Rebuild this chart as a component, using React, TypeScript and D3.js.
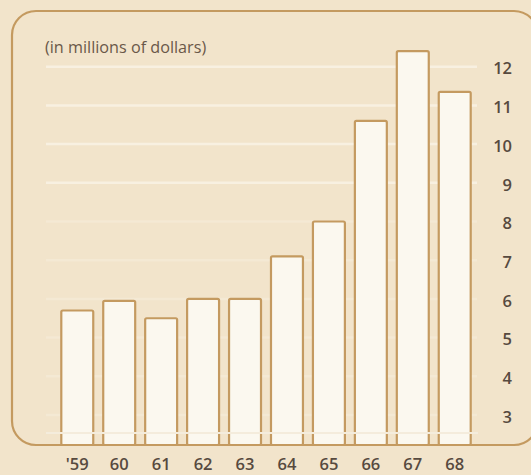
import { useEffect, useRef } from 'react';
import * as d3 from 'd3';

// fiscal years, '59 through '68
const years = ["'59", '60', '61', '62', '63', '64', '65', '66', '67', '68'];
// amounts in millions of dollars
const amounts = [5.7, 5.95, 5.5, 6.0, 6.0, 7.1, 8.0, 10.6, 12.4, 11.35];
// right-hand scale labels
const tickValues = [3, 4, 5, 6, 7, 8, 9, 10, 11, 12];

const W = 531;
const H = 475;

const BG = '#f2e4cb';
const BROWN = '#c49a60';
const INK = '#574a3f';
const FONT = 'Open Sans, Liberation Sans, sans-serif';

export default function App() {
  const ref = useRef<SVGSVGElement | null>(null);

  useEffect(() => {
    const svg = d3.select(ref.current);
    svg.selectAll('*').remove();

    const baseY = 445;

    const x = d3.scaleBand<string>()
      .domain(years)
      .range([55, 477])
      .paddingInner(0.238)
      .paddingOuter(0.15);

    const y = d3.scaleLinear()
      .domain([3, 12])
      .range([415, 66.7]);

    svg.append('rect')
      .attr('width', W)
      .attr('height', H)
      .attr('fill', BG);

    // faded white gridlines
    svg.append('g')
      .selectAll('line')
      .data(tickValues)
      .join('line')
      .attr('x1', 46)
      .attr('x2', 477)
      .attr('y1', d => y(d))
      .attr('y2', d => y(d))
      .attr('stroke', '#fbf5e9')
      .attr('stroke-width', 2.5)
      .attr('opacity', d => (d >= 9 ? 0.75 : 0.3));

    // bars
    svg.append('g')
      .selectAll('rect')
      .data(amounts)
      .join('rect')
      .attr('x', (d, i) => x(years[i])!)
      .attr('y', d => y(d))
      .attr('width', x.bandwidth())
      .attr('height', d => baseY - y(d))
      .attr('rx', 1.5)
      .attr('fill', '#fbf8ef')
      .attr('stroke', BROWN)
      .attr('stroke-width', 2.2);

    // light break line near the base
    svg.append('line')
      .attr('x1', 46)
      .attr('x2', 478)
      .attr('y1', 433)
      .attr('y2', 433)
      .attr('stroke', '#f4ecdc')
      .attr('stroke-width', 2);

    // rounded frame
    svg.append('rect')
      .attr('x', 12)
      .attr('y', 11)
      .attr('width', 526)
      .attr('height', baseY - 11)
      .attr('rx', 24)
      .attr('fill', 'none')
      .attr('stroke', BROWN)
      .attr('stroke-width', 2.2);

    svg.append('text')
      .attr('x', 45)
      .attr('y', 53)
      .attr('font-family', FONT)
      .attr('font-size', 16.2)
      .attr('fill', '#6a5849')
      .text('(in millions of dollars)');

    // right-hand value labels
    svg.append('g')
      .selectAll('text')
      .data(tickValues)
      .join('text')
      .attr('x', 512)
      .attr('y', d => y(d) + 2)
      .attr('dy', '0.35em')
      .attr('text-anchor', 'end')
      .attr('font-family', FONT)
      .attr('font-size', 16.5)
      .attr('font-weight', 600)
      .attr('fill', INK)
      .text(d => d);

    // year labels
    svg.append('g')
      .selectAll('text')
      .data(years)
      .join('text')
      .attr('x', d => x(d)! + x.bandwidth() / 2)
      .attr('y', 470)
      .attr('text-anchor', 'middle')
      .attr('font-family', FONT)
      .attr('font-size', 16.5)
      .attr('font-weight', 600)
      .attr('fill', INK)
      .text(d => d);
  }, []);

  return (
    <svg
      ref={ref}
      width={W}
      height={H}
      style={{ position: 'absolute', left: 0, top: 0, display: 'block' }}
    />
  );
}
